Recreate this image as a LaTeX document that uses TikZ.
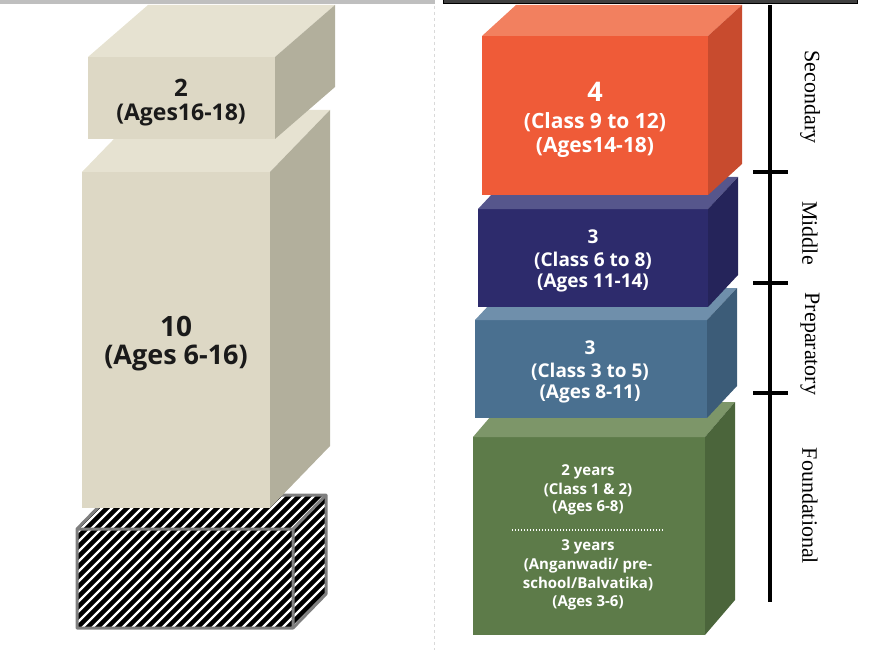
\documentclass[tikz,border=0pt]{standalone}
\usepackage{fontspec}
\setmainfont{Liberation Serif}
\newfontfamily\boxfont{Open Sans}
\definecolor{beigeF}{HTML}{DDD8C5}
\definecolor{beigeT}{HTML}{E6E2D1}
\definecolor{beigeS}{HTML}{B2AF9C}
\definecolor{orangeF}{HTML}{EF5B38}
\definecolor{orangeT}{HTML}{F2805F}
\definecolor{orangeS}{HTML}{C84B2E}
\definecolor{navyF}{HTML}{2D2B6C}
\definecolor{navyT}{HTML}{56568C}
\definecolor{navyS}{HTML}{25245A}
\definecolor{blueF}{HTML}{4A7090}
\definecolor{blueT}{HTML}{6F8FAB}
\definecolor{blueS}{HTML}{3C5C78}
\definecolor{greenF}{HTML}{5D7B49}
\definecolor{greenT}{HTML}{7D9669}
\definecolor{greenS}{HTML}{4B653B}
\definecolor{darktext}{HTML}{1A1A1A}
\definecolor{hatchgray}{HTML}{7F7F7F}
% x1 y1 x2 y2 dx dy front top side
\newcommand\mycuboid[9]{%
  \fill[#7] (#1,#2) rectangle (#3,#4);
  \fill[#8] (#1,#2) -- (#1+#5,#2-#6) -- (#3+#5,#2-#6) -- (#3,#2) -- cycle;
  \fill[#9] (#3,#2) -- (#3+#5,#2-#6) -- (#3+#5,#4-#6) -- (#3,#4) -- cycle;
}
\begin{document}
\begin{tikzpicture}[x=1pt,y=-1pt,
  lefttext/.style={font=\boxfont\bfseries\fontsize{#1}{#1}\selectfont, text=darktext, inner sep=0pt},
  righttext/.style={font=\boxfont\bfseries\fontsize{#1}{#1}\selectfont, text=white, inner sep=0pt},
  stagelabel/.style={font=\fontsize{22}{22}\selectfont, rotate=-90, inner sep=0pt},
  axisline/.style={line width=4.6pt}]
\useasboundingbox (0,0) rectangle (876,650);
% top bars
\fill[black!25] (0,0) rectangle (435,4);
\draw[black, fill=black!75, line width=1pt] (443,-2) rectangle (857,4);
% divider
\draw[black!15, dashed, line width=0.8pt] (434.5,6) -- (434.5,650);

% ---------- left column ----------
% hatched box
\begin{scope}
  \clip (77,529) -- (77,628) -- (293,628) -- (326,594) -- (326,495) -- (110,495) -- cycle;
  \fill[black] (60,480) rectangle (340,640);
  \foreach \a in {-160,-150,...,340}
    \draw[white, line width=2.4pt] (\a,640) -- (\a+160,480);
\end{scope}
\draw[hatchgray, line width=3pt, line join=round]
  (77,529) -- (77,628) -- (293,628) -- (326,594) -- (326,495) -- (110,495) -- cycle;
\draw[hatchgray, line width=3pt, line join=round]
  (77,529) -- (293,529) -- (293,628) (293,529) -- (326,495);
% box 10
\mycuboid{82}{172}{270}{508}{60}{62}{beigeF}{beigeT}{beigeS}
% box 2
\mycuboid{88}{57}{275}{139}{60}{52}{beigeF}{beigeT}{beigeS}
\node[lefttext=24] (b2a) at (181,88) {2};
\node[lefttext=23] (b2b) at (181,115) {(Ages16-18)};
\node[lefttext=28] (b10a) at (176,326) {10};
\node[lefttext=27] (b10b) at (176,358) {(Ages 6-16)};

% ---------- right column ----------
\mycuboid{473}{437}{705}{635}{30}{35}{greenF}{greenT}{greenS}
\mycuboid{475}{320}{707}{418}{30}{32}{blueF}{blueT}{blueS}
\mycuboid{478}{209}{708}{307}{30}{32}{navyF}{navyT}{navyS}
\mycuboid{482}{36}{708}{195}{34}{31}{orangeF}{orangeT}{orangeS}

\node[righttext=27] (o1) at (595,92) {4};
\node[righttext=21] (o2) at (595,122) {(Class 9 to 12)};
\node[righttext=21] (o3) at (595,147) {(Ages14-18)};

\node[righttext=19] (n1) at (593,237) {3};
\node[righttext=19] (n2) at (593,261) {(Class 6 to 8)};
\node[righttext=19] (n3) at (593,283) {(Ages 11-14)};

\node[righttext=19] (p1) at (590,348) {3};
\node[righttext=19] (p2) at (590,372) {(Class 3 to 5)};
\node[righttext=19] (p3) at (590,394) {(Ages 8-11)};

\node[righttext=15] (f1) at (588,472) {2 years};
\node[righttext=15] (f2) at (588,490) {(Class 1 \& 2)};
\node[righttext=15] (f3) at (588,508) {(Ages 6-8)};
\coordinate (dotL) at (512,530);
\coordinate (dotR) at (663,530);
\draw[white, line width=1.4pt, dash pattern=on 1.4pt off 1.6pt] (dotL) -- (dotR);
\node[righttext=15] (f4) at (588,547) {3 years};
\node[righttext=15] (f5) at (588,566) {(Anganwadi/ pre-};
\node[righttext=15] (f6) at (588,584) {school/Balvatika)};
\node[righttext=15] (f7) at (588,603) {(Ages 3-6)};

% stage axis
\coordinate (axT) at (770,5);
\coordinate (axB) at (770,602);
\draw[axisline] (axT) -- (axB);
\foreach \yy/\nm in {172/t1,283/t2,393/t3}{
  \coordinate (\nm L) at (753,\yy);
  \coordinate (\nm R) at (788,\yy);
  \draw[axisline] (\nm L) -- (\nm R);
}
\node[stagelabel] (sec) at (810,97) {Secondary};
\node[stagelabel] (mid) at (810,233) {Middle};
\node[stagelabel] (prep) at (810,344) {Preparatory};
\node[stagelabel] (found) at (810,506) {Foundational};
\end{tikzpicture}
\end{document}
